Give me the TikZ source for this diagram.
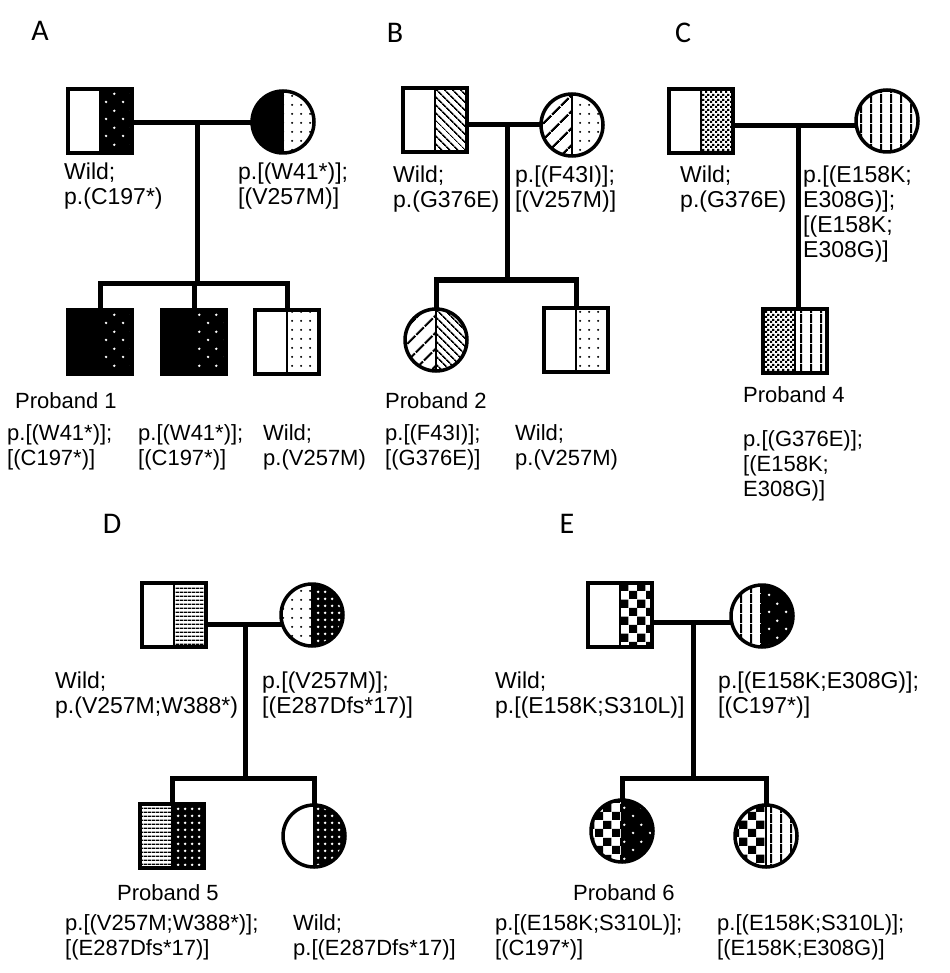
\documentclass[tikz,border=0pt]{standalone}
\usepackage{fontspec}
\setmainfont{Liberation Sans}
\newfontfamily\lblfont{Carlito}
\usetikzlibrary{patterns.meta}

\tikzdeclarepattern{name=dotsS, type=uncolored, bottom left={(0pt,0pt)}, top right={(17pt,17pt)}, tile size={(17pt,17pt)},
  code={\fill (4.25pt,4.25pt) circle[radius=1.4pt]; \fill (12.75pt,12.75pt) circle[radius=1.4pt];}}
\tikzdeclarepattern{name=dotsM, type=uncolored, bottom left={(0pt,0pt)}, top right={(9pt,9pt)}, tile size={(9pt,9pt)},
  code={\fill (4.5pt,4.5pt) circle[radius=1.2pt];}}
\tikzdeclarepattern{name=dotsD, type=uncolored, bottom left={(0pt,0pt)}, top right={(7pt,7pt)}, tile size={(7pt,7pt)},
  code={\fill (3.5pt,3.5pt) circle[radius=1.6pt];}}
\tikzdeclarepattern{name=hlin, type=uncolored, bottom left={(0pt,0pt)}, top right={(4pt,4pt)}, tile size={(4pt,4pt)},
  code={\fill (0pt,0pt) rectangle (4pt,1.6pt);}}
\tikzdeclarepattern{name=vlin, type=uncolored, bottom left={(0pt,0pt)}, top right={(10pt,10pt)}, tile size={(10pt,10pt)},
  code={\fill (0pt,0pt) rectangle (2.2pt,10pt);}}
\tikzdeclarepattern{name=nwlin, type=uncolored, bottom left={(0pt,0pt)}, top right={(6pt,6pt)}, tile size={(6pt,6pt)},
  tile transformation={rotate=-45},
  code={\fill (0pt,0pt) rectangle (6pt,2pt);}}
\tikzdeclarepattern{name=nelin, type=uncolored, bottom left={(0pt,0pt)}, top right={(12pt,12pt)}, tile size={(12pt,12pt)},
  tile transformation={rotate=45},
  code={\fill (0pt,0pt) rectangle (12pt,2.6pt);}}
\tikzdeclarepattern{name=chkF, type=uncolored, bottom left={(0pt,0pt)}, top right={(5pt,5pt)}, tile size={(5pt,5pt)},
  code={\fill (0pt,0pt) rectangle (2.5pt,2.5pt); \fill (2.5pt,2.5pt) rectangle (5pt,5pt);}}
\tikzdeclarepattern{name=chkB, type=uncolored, bottom left={(0pt,0pt)}, top right={(17pt,17pt)}, tile size={(17pt,17pt)},
  code={\fill (0pt,0pt) rectangle (8.5pt,8.5pt); \fill (8.5pt,8.5pt) rectangle (17pt,17pt);}}

\tikzset{
  conn/.style={line width=5pt},
  outl/.style={line width=3.5pt, line join=miter},
  divl/.style={line width=2.5pt},
  sq/.style={rectangle, minimum size=64pt, inner sep=0pt},
  ci/.style={circle, minimum size=62pt, inner sep=0pt},
  ptxt/.style={anchor=base west, align=left, inner sep=0pt, font=\fontsize{23}{25}\selectfont},
  ktxt/.style={anchor=base west, align=left, inner sep=0pt, font=\fontsize{22}{25}\selectfont},
  lbl/.style={font=\lblfont\fontsize{30}{30}\selectfont, inner sep=0pt},
  fwhite/.style={fill=white},
  fblack/.style={fill=black},
  fbdS/.style={preaction={fill=black}, pattern=dotsS, pattern color=white},
  fwdM/.style={preaction={fill=white}, pattern=dotsM, pattern color=black},
  fbdD/.style={preaction={fill=black}, pattern=dotsD, pattern color=white},
  fhl/.style={preaction={fill=white}, pattern=hlin, pattern color=black},
  fvl/.style={preaction={fill=white}, pattern=vlin, pattern color=black},
  fnw/.style={preaction={fill=white}, pattern=nwlin, pattern color=black},
  fne/.style={preaction={fill=white}, pattern=nelin, pattern color=black},
  fchkF/.style={preaction={fill=white}, pattern=chkF, pattern color=black},
  fchkB/.style={preaction={fill=white}, pattern=chkB, pattern color=black},
}

\newcommand{\halfsq}[3]{%
  \path[#2] (#1.north west) rectangle (#1.south);
  \path[#3] (#1.north) rectangle (#1.south east);
  \draw[divl] (#1.north) -- (#1.south);
  \draw[outl] (#1.north west) rectangle (#1.south east);
}
\newcommand{\halfci}[3]{%
  \begin{scope}
    \clip (#1.center) circle[radius=31pt];
    \path[#2] (#1.west |- #1.north) rectangle (#1.south);
    \path[#3] (#1.north) rectangle (#1.east |- #1.south);
  \end{scope}
  \draw[divl] (#1.north) -- (#1.south);
  \draw[outl] (#1.center) circle[radius=31pt];
}
\newcommand{\fullci}[2]{%
  \begin{scope}
    \clip (#1.center) circle[radius=31pt];
    \path[#2] (#1.west |- #1.north) rectangle (#1.east |- #1.south);
  \end{scope}
  \draw[outl] (#1.center) circle[radius=31pt];
}

\begin{document}
\begin{tikzpicture}[x=1pt,y=-1pt]
\useasboundingbox (0,0) rectangle (949,973);
\fill[white] (0,0) rectangle (949,973);

% ---------- panel labels
\node[lbl] (LA) at (40,31) {A};
\node[lbl] (LB) at (395,33) {B};
\node[lbl] (LC) at (683,33) {C};
\node[lbl] (LD) at (112,524) {D};
\node[lbl] (LE) at (567,524) {E};

% ---------- nodes (shapes)
% A
\node[sq] (fA) at (100,121) {};
\node[ci] (mA) at (283,122) {};
\coordinate (jA) at (197,123);
\coordinate (sA) at (197,283);
\node[sq] (cA1) at (100,342) {};
\node[sq] (cA2) at (194,342) {};
\node[sq] (cA3) at (287,342) {};
% B
\node[sq] (fB) at (435,120) {};
\node[ci] (mB) at (572,125) {};
\coordinate (jB) at (507,125);
\coordinate (sB) at (507,280);
\node[ci] (cB1) at (436,340) {};
\node[sq] (cB2) at (576,340) {};
% C
\node[sq] (fC) at (701,121) {};
\node[ci] (mC) at (887,121) {};
\coordinate (jC) at (798,126);
\node[sq] (cC) at (795,341) {};
% D
\node[sq] (fD) at (174,615) {};
\node[ci] (mD) at (312,615) {};
\coordinate (jD) at (245,624);
\coordinate (sD) at (245,778);
\node[sq] (cD1) at (172,836) {};
\node[ci] (cD2) at (314,836) {};
% E
\node[sq] (fE) at (620,615) {};
\node[ci] (mE) at (762,616) {};
\coordinate (jE) at (693,622);
\coordinate (sE) at (693,778);
\node[ci] (cE1) at (622,831) {};
\node[ci] (cE2) at (766,836) {};

% ---------- connectors
\draw[conn] (fA.center |- jA) -- (mA.center |- jA);
\draw[conn] (jA) -- (sA);
\draw[conn, line join=miter] (cA1.north) -- (cA1.north |- sA) -- (cA3.north |- sA) -- (cA3.north);
\draw[conn] (cA2.north |- sA) -- (cA2.north);

\draw[conn] (fB.center |- jB) -- (mB.center |- jB);
\draw[conn] (jB) -- (sB);
\draw[conn, line join=miter] (cB1.north) -- (cB1.north |- sB) -- (cB2.north |- sB) -- (cB2.north);

\draw[conn] (fC.center |- jC) -- (mC.center |- jC);
\draw[conn] (jC) -- (jC |- cC.north);

\draw[conn] (fD.center |- jD) -- (mD.center |- jD);
\draw[conn] (jD) -- (sD);
\draw[conn, line join=miter] (cD1.north) -- (cD1.north |- sD) -- (cD2.north |- sD) -- (cD2.north);

\draw[conn] (fE.center |- jE) -- (mE.center |- jE);
\draw[conn] (jE) -- (sE);
\draw[conn, line join=miter] (cE1.north) -- (cE1.north |- sE) -- (cE2.north |- sE) -- (cE2.north);

% ---------- symbols
\halfsq{fA}{fwhite}{fbdS}
\halfci{mA}{fblack}{fwdM}
\halfsq{cA1}{fblack}{fbdS}
\halfsq{cA2}{fblack}{fbdS}
\halfsq{cA3}{fwhite}{fwdM}

\halfsq{fB}{fwhite}{fnw}
\halfci{mB}{fne}{fwdM}
\halfci{cB1}{fne}{fnw}
\halfsq{cB2}{fwhite}{fwdM}

\halfsq{fC}{fwhite}{fchkF}
\fullci{mC}{fvl}
\halfsq{cC}{fchkF}{fvl}

\halfsq{fD}{fwhite}{fhl}
\halfci{mD}{fwdM}{fbdD}
\halfsq{cD1}{fhl}{fbdD}
\halfci{cD2}{fwhite}{fbdD}

\halfsq{fE}{fwhite}{fchkB}
\halfci{mE}{fvl}{fbdS}
\halfci{cE1}{fchkB}{fbdS}
\halfci{cE2}{fchkB}{fvl}

% ---------- texts (anchor = baseline of the last line)
\node[ptxt] (tAf) at (64,205) {Wild;\\p.(C197*)};
\node[ptxt] (tAm) at (238,205) {p.[(W41*)];\\{[}(V257M)]};
\node[ktxt] (tAp) at (15,408) {Proband 1};
\node[ktxt] (tA1) at (7,465) {p.[(W41*)];\\{[}(C197*)]};
\node[ktxt] (tA2) at (138,465) {p.[(W41*)];\\{[}(C197*)]};
\node[ktxt] (tA3) at (263,465) {Wild;\\p.(V257M)};

\node[ptxt] (tBf) at (393,208) {Wild;\\p.(G376E)};
\node[ptxt] (tBm) at (515,208) {p.[(F43I)];\\{[}(V257M)]};
\node[ktxt] (tBp) at (385,408) {Proband 2};
\node[ktxt] (tB1) at (385,465) {p.[(F43I)];\\{[}(G376E)]};
\node[ktxt] (tB2) at (515,465) {Wild;\\p.(V257M)};

\node[ptxt] (tCf) at (680,208) {Wild;\\p.(G376E)};
\node[ptxt] (tCm) at (803,258) {p.[(E158K;\\E308G)];\\{[}(E158K;\\E308G)]};
\node[ktxt] (tCp) at (743,402) {Proband 4};
\node[ktxt] (tC1) at (743,496) {p.[(G376E)];\\{[}(E158K;\\E308G)]};

\node[ptxt] (tDf) at (55,713) {Wild;\\p.(V257M;W388*)};
\node[ptxt] (tDm) at (262,713) {p.[(V257M)];\\{[}(E287Dfs*17)]};
\node[ktxt] (tDp) at (117,900) {Proband 5};
\node[ktxt] (tD1) at (65,955) {p.[(V257M;W388*)];\\{[}(E287Dfs*17)]};
\node[ktxt] (tD2) at (293,955) {Wild;\\p.[(E287Dfs*17)]};

\node[ptxt] (tEf) at (495,713) {Wild;\\p.[(E158K;S310L)]};
\node[ptxt] (tEm) at (718,713) {p.[(E158K;E308G)];\\{[}(C197*)]};
\node[ktxt] (tEp) at (573,900) {Proband 6};
\node[ktxt] (tE1) at (495,955) {p.[(E158K;S310L)];\\{[}(C197*)]};
\node[ktxt] (tE2) at (717,955) {p.[(E158K;S310L)];\\{[}(E158K;E308G)]};
\end{tikzpicture}
\end{document}
